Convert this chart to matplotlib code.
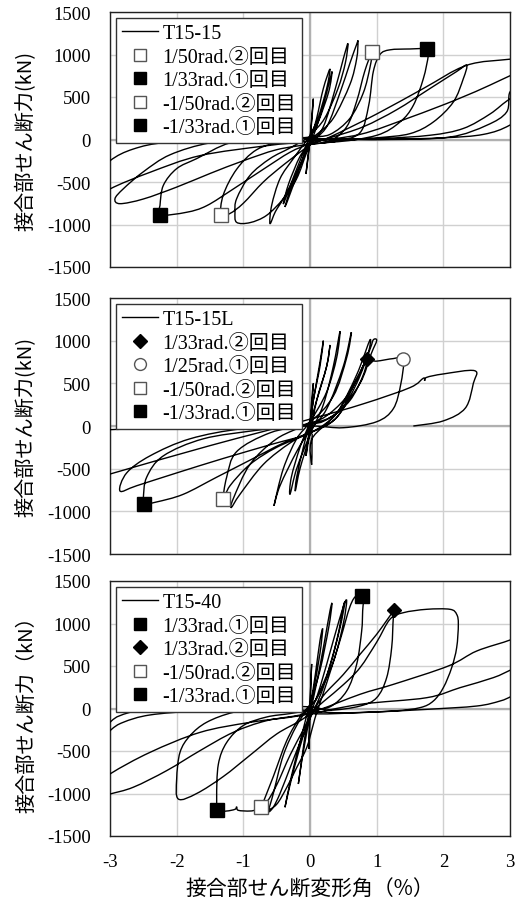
import numpy as np
import matplotlib
matplotlib.use("Agg")
import matplotlib.pyplot as plt
from matplotlib.lines import Line2D
from matplotlib.path import Path
from matplotlib.patches import PathPatch

plt.rcParams['font.family'] = ['Liberation Serif', 'Noto Sans CJK JP']

# joint shear deformation angle (%) / joint shear force (kN)
t15_15_curve = [
    (0, 0), (0.02, 200), (0.05, 480), (0.03, 250), (0, 0), (-0.02, -150), (-0.06, -406), (-0.03, -200), (0, -30),
    (0.1, 250), (0.2, 600), (0.3, 830), (0.25, 600), (0.12, 250), (0, 40), (-0.12, -250), (-0.28, -600),
    (-0.375, -794), (-0.3, -600), (-0.15, -300), (0, -60),
    (0.12, 200), (0.25, 550), (0.33, 800), (0.28, 560), (0.12, 200), (0, 30), (-0.15, -250), (-0.3, -550),
    (-0.4, -760), (-0.32, -520), (-0.15, -200), (0, -50),
    (0.2, 150), (0.38, 600), (0.5, 950), (0.57, 1130), (0.53, 900), (0.42, 600), (0.22, 250), (0, 40),
    (-0.25, -225), (-0.45, -461), (-0.575, -775), (-0.6, -990), (-0.52, -850), (-0.4, -696), (-0.2, -400), (0, -60),
    (0.25, 150), (0.45, 550), (0.6, 900), (0.7, 1120), (0.72, 1150), (0.7, 950), (0.6, 650), (0.35, 250),
    (0.1, 60), (0, 30), (-0.3, -100), (-0.6, -225), (-0.9, -422), (-1.1, -696), (-1.125, -853), (-1.1, -975),
    (-0.9, -978), (-0.65, -892), (-0.4, -696), (-0.2, -461), (-0.05, -150), (0, -60),
    (0.3, -20), (0.55, 150), (0.7, 450), (0.82, 800), (0.93, 1030), (0.9, 850), (0.8, 550), (0.6, 250),
    (0.3, 60), (0, 30), (-0.4, -20), (-0.8, -120), (-1.1, -350), (-1.3, -650), (-1.335, -888), (-1.2, -870),
    (-1.0, -750), (-0.7, -500), (-0.4, -300), (-0.1, -120), (0, -60),
    (0.4, -20), (0.75, 80), (0.88, 400), (0.95, 800), (1.05, 1000), (1.2, 1055), (1.5, 1065), (1.76, 1065),
    (1.775, 990), (1.7, 716), (1.55, 402), (1.35, 206), (1.0, 49), (0.35, -29), (0, 20), (-0.6, 10),
    (-1.2, -40), (-1.7, -225), (-2.0, -343), (-2.2, -540), (-2.25, -775), (-2.25, -888), (-1.85, -856),
    (-1.55, -779), (-1.15, -582), (-0.7, -350), (-0.3, -150), (0, -50),
    (0.3, 20), (0.8, 150), (1.3, 350), (1.8, 600), (2.2, 800), (2.35, 873), (2.3, 716), (2.15, 441),
    (1.85, 206), (1.5, 69), (1.0, 20), (0.4, -10), (0, 20), (-0.8, 0), (-1.5, -40), (-2.1, -180),
    (-2.5, -380), (-2.8, -580), (-2.925, -696), (-2.85, -755), (-2.5, -700), (-2.0, -560), (-1.5, -400),
    (-1.0, -250), (-0.5, -120), (0, -50),
    (0.3, 30), (1.0, 300), (1.7, 600), (2.35, 873), (3.0, 945), (3.4, 980), (3.5, 800), (3.2, 650),
    (3.0, 560), (2.95, 324), (2.65, 167), (2.1, 29), (1.2, 0), (0, 10),
    (-1.15, 6), (-2.15, -33), (-2.65, -112), (-3.0, -250), (-3.3, -500), (-3.5, -800), (-3.3, -750),
    (-3.0, -582), (-2.4, -386), (-1.65, -190), (-0.65, -73), (0, -20),
    (0.75, 60), (1.5, 260), (2.2, 470), (2.7, 640), (3.0, 750), (3.4, 880), (3.6, 700), (3.3, 550),
    (3.0, 476), (2.7, 300), (2.3, 130), (1.8, 50), (1.0, 10), (0, 0),
    (1.0, 0), (2.0, 20), (2.6, 60), (3.0, 170), (3.4, 400),
]

t15_15l_curve = [
    (0, 0), (0.02, 250), (0.05, 500), (0.03, 250), (0, 0), (-0.03, -200), (-0.06, -350), (-0.03, -150), (0, 0),
    (0.05, 300), (0.15, 700), (0.2, 1000), (0.15, 750), (0.05, 300), (0, 50), (-0.1, -250), (-0.2, -600),
    (-0.22, -760), (-0.15, -500), (0, -100),
    (0.1, 300), (0.25, 700), (0.3, 950), (0.25, 700), (0.1, 300), (0, 50), (-0.15, -250), (-0.28, -600),
    (-0.3, -800), (-0.2, -500), (0, -100),
    (0.2, 250), (0.35, 700), (0.45, 1110), (0.4, 800), (0.25, 400), (0, 50), (-0.2, -150), (-0.4, -500),
    (-0.54, -935), (-0.45, -700), (-0.2, -300), (0, -50),
    (0.25, 200), (0.5, 700), (0.62, 1100), (0.55, 800), (0.35, 350), (0, 50), (-0.5, -150), (-0.9, -450),
    (-1.15, -850), (-1.18, -955), (-1.05, -800), (-0.7, -450), (-0.3, -200), (0, -80),
    (0.03, -200), (0.025, -454), (0.03, -150),
    (0.4, 150), (0.7, 600), (0.9, 1010), (0.85, 800), (0.6, 400), (0.3, 150), (0, 30), (-0.6, -80),
    (-1.1, -300), (-1.25, -600), (-1.30, -856), (-1.2, -700), (-0.9, -450), (-0.5, -250), (0, -80),
    (0.4, 100), (0.7, 500), (0.9, 900), (0.95, 1010), (1.0, 1000), (0.92, 850), (0.75, 500), (0.4, 150),
    (0, 30), (-0.8, -50), (-1.6, -150), (-2.2, -350), (-2.45, -600), (-2.5, -850), (-2.49, -911),
    (-2.3, -890), (-1.9, -800), (-1.4, -600), (-0.9, -400), (-0.4, -200), (0, -80),
    (0.4, 100), (0.7, 550), (0.85, 785), (0.8, 600), (0.6, 300), (0.3, 100), (0, 20), (-1.0, -30),
    (-1.8, -150), (-2.4, -350), (-2.75, -550), (-2.85, -762), (-2.6, -700), (-2.0, -550), (-1.3, -380),
    (-0.6, -220), (0, -80),
    (0.4, 150), (0.7, 550), (0.85, 760), (1.0, 760), (1.25, 790), (1.40, 785), (1.36, 484), (1.25, 203),
    (1.0, 50), (0.5, -20), (0, 0), (-1.0, -20), (-2.0, -35), (-3.0, -43), (-3.6, -100), (-3.8, -400),
    (-3.6, -700), (-3.0, -563), (-1.5, -230), (0, 80), (0.8, 260), (1.5, 450), (1.7, 560), (1.72, 530),
    (1.75, 570), (2.0, 610), (2.47, 648), (2.45, 500), (2.33, 210), (2.0, 60), (1.55, 0),
]

t15_40_curve = [
    (0, 0), (0.01, 250), (0.025, 524), (0.01, 250), (0, 0), (-0.01, -250), (-0.017, -476), (-0.005, -200), (0, -30),
    (0.08, 400), (0.15, 800), (0.19, 935), (0.15, 650), (0.05, 200), (0, 30), (-0.08, -350), (-0.15, -750),
    (-0.175, -888), (-0.12, -600), (-0.03, -200), (0, -60),
    (0.1, 300), (0.22, 800), (0.3, 1150), (0.33, 1229), (0.28, 950), (0.15, 450), (0, 60), (-0.12, -300),
    (-0.28, -800), (-0.375, -1162), (-0.3, -900), (-0.15, -450), (0, -80),
    (0.15, 250), (0.35, 800), (0.5, 1200), (0.55, 1265), (0.5, 1000), (0.35, 550), (0.1, 120), (0, 30),
    (-0.2, -200), (-0.4, -550), (-0.55, -1000), (-0.62, -1206), (-0.55, -1160), (-0.45, -1000), (-0.3, -700),
    (-0.15, -400), (0, -120),
    (0.2, 250), (0.4, 800), (0.5, 1200), (0.52, 1229), (0.45, 950), (0.3, 500), (0.1, 120), (0, 40),
    (-0.15, -100), (-0.35, -380), (-0.55, -800), (-0.7, -1100), (-0.725, -1167), (-0.65, -1200),
    (-0.5, -1127), (-0.35, -931), (-0.2, -696), (-0.05, -461), (0.05, -186), (0.1, -50),
    (0.25, 300), (0.45, 800), (0.6, 1200), (0.70, 1330), (0.80, 1324), (0.79, 1150), (0.775, 912),
    (0.70, 520), (0.55, 206), (0.3, 20), (0, -20), (-0.3, -60), (-0.65, -100), (-1.0, -200), (-1.25, -400),
    (-1.375, -657), (-1.40, -1049), (-1.375, -1198), (-1.25, -1206), (-1.125, -1186), (-1.1, -1159),
    (-1.075, -1198), (-0.9, -1206), (-0.8, -1186), (-0.65, -1100), (-0.5, -900), (-0.3, -550), (-0.1, -250),
    (0, -100),
    (0.2, 150), (0.5, 400), (0.75, 637), (1.0, 873), (1.275, 1167), (1.25, 1069), (1.225, 716), (1.15, 363),
    (1.0, 127), (0.75, 29), (0.3, -20), (0, 20), (-0.65, 14), (-1.15, -45), (-1.55, -162), (-1.8, -320),
    (-1.95, -516), (-2.0, -829), (-1.975, -1065), (-1.7, -1000), (-1.3, -800), (-0.9, -550), (-0.5, -300),
    (-0.1, -120),
    (0.2, 80), (0.5, 280), (0.75, 480), (1.0, 780), (1.2, 1050), (1.4, 1127), (1.75, 1167), (2.1, 1167),
    (2.2, 1108), (2.225, 990), (2.2, 716), (2.125, 480), (2.0, 245), (1.85, 88), (1.65, 10), (1.25, -29),
    (0.5, -50), (0, -30), (-0.65, 33), (-1.9, 2), (-2.55, -25), (-2.85, -84), (-3.0, -162), (-3.3, -400),
    (-3.4, -900), (-3.2, -1050), (-3.0, -1006), (-2.65, -926), (-2.15, -731), (-1.65, -496), (-1.15, -280),
    (-0.65, -143), (0, -50), (0.75, 167), (1.25, 284), (2.075, 500), (2.5, 676), (3.03, 814), (3.4, 950),
    (3.6, 700), (3.4, 300), (3.03, 147), (2.85, 88), (2.5, 29), (1.75, -10), (0.75, -49), (0, -60),
    (-0.65, 14), (-1.65, -25), (-2.4, -76), (-2.8, -162), (-3.0, -261), (-3.3, -500), (-3.6, -900),
    (-3.4, -1000), (-3.0, -770), (-2.4, -516), (-1.65, -281), (-0.9, -163), (-0.15, -85), (0.75, 49),
    (1.75, 127), (2.25, 245), (2.75, 363), (3.03, 461), (3.4, 600),
]

specimens = ['T15-15', 'T15-15L', 'T15-40']
curves = [t15_15_curve, t15_15l_curve, t15_40_curve]

mark_labels = [
    ['1/50rad.②回目', '1/33rad.①回目', '-1/50rad.②回目', '-1/33rad.①回目'],
    ['1/33rad.②回目', '1/25rad.①回目', '-1/50rad.②回目', '-1/33rad.①回目'],
    ['1/33rad.①回目', '1/33rad.②回目', '-1/50rad.②回目', '-1/33rad.①回目'],
]
mark_x = [
    [0.93, 1.76, -1.335, -2.25],
    [0.85, 1.40, -1.30, -2.49],
    [0.775, 1.265, -0.74, -1.40],
]
mark_y = [
    [1026, 1065, -888, -888],
    [785, 785, -856, -911],
    [1320, 1159, -1162, -1194],
]
mark_shapes = [
    [('s', 'white'), ('s', 'black'), ('s', 'white'), ('s', 'black')],
    [('D', 'black'), ('o', 'white'), ('s', 'white'), ('s', 'black')],
    [('s', 'black'), ('D', 'black'), ('s', 'white'), ('s', 'black')],
]

ylabels = ['接合部せん断力(kN)', '接合部せん断力(kN)', '接合部せん断力（kN）']
xlabel = '接合部せん断変形角（%）'
x_ticks = [-3, -2, -1, 0, 1, 2, 3]
y_ticks = [-1500, -1000, -500, 0, 500, 1000, 1500]


def smooth_path(points):
    # draw the read points as a smooth curve (Catmull-Rom segments as cubic Bezier)
    p = np.array(points, dtype=float)
    verts = [p[0]]
    codes = [Path.MOVETO]
    n = len(p)
    for k in range(n - 1):
        p0 = p[k - 1] if k > 0 else p[k]
        p1 = p[k]
        p2 = p[k + 1]
        p3 = p[k + 2] if k + 2 < n else p[k + 1]
        verts += [p1 + (p2 - p0) / 6.0, p2 - (p3 - p1) / 6.0, p2]
        codes += [Path.CURVE4] * 3
    return Path(verts, codes)


fig = plt.figure(figsize=(5.25, 9.03), dpi=100)
left = 110 / 525
width = 400 / 525
tops = [13, 299, 582]
bottoms = [268, 555, 837]

for i in range(3):
    ax = fig.add_axes([left, 1 - bottoms[i] / 903, width, (bottoms[i] - tops[i]) / 903])
    ax.set_xlim(-3, 3)
    ax.set_ylim(-1500, 1500)
    ax.set_xticks(x_ticks)
    ax.set_yticks(y_ticks)
    ax.grid(True, color='#d0d0d0', linewidth=1.0)
    ax.axhline(0, color='#b0b0b0', linewidth=1.6, zorder=1)
    ax.axvline(0, color='#b0b0b0', linewidth=1.6, zorder=1)
    ax.set_axisbelow(True)
    for s in ax.spines.values():
        s.set_color('#222222')
        s.set_linewidth(1.0)
    ax.tick_params(length=0, labelsize=13.5)
    ax.tick_params(axis='y', pad=14)
    ax.set_yticklabels([str(v) for v in y_ticks])
    if i < 2:
        ax.set_xticklabels([])
    else:
        ax.set_xticklabels([str(v) for v in x_ticks])
        ax.tick_params(axis='x', pad=12)
        ax.set_xlabel(xlabel, fontsize=15, family=['Noto Sans CJK JP'], labelpad=6)

    patch = PathPatch(smooth_path(curves[i]), facecolor='none', edgecolor='black',
                      linewidth=1.0, zorder=3)
    ax.add_patch(patch)

    handles = [Line2D([0], [0], color='black', linewidth=1.0)]
    labels = [specimens[i]]
    for j in range(4):
        m, fc = mark_shapes[i][j]
        ms = {'s': 9.5, 'D': 7.5, 'o': 9.5}[m]
        ec = 'black' if fc == 'black' else '#555555'
        ax.plot(mark_x[i][j], mark_y[i][j], marker=m, markersize=ms, markerfacecolor=fc,
                markeredgecolor=ec, markeredgewidth=1.0, linestyle='none', zorder=5)
        handles.append(Line2D([0], [0], marker=m, markersize=ms * 0.9, markerfacecolor=fc,
                              markeredgecolor=ec, markeredgewidth=1.0, linestyle='none'))
        labels.append(mark_labels[i][j])
    leg = ax.legend(handles, labels, loc='upper left', fontsize=14.5, frameon=True, fancybox=False,
                    framealpha=1, edgecolor='#333333', handlelength=1.8, handletextpad=0.2,
                    labelspacing=0.22, borderpad=0.3, borderaxespad=0.3)
    leg.get_frame().set_linewidth(1.0)
    leg.set_zorder(10)

    ax.set_ylabel(ylabels[i], fontsize=14.5, family=['Noto Sans CJK JP'], labelpad=7)

fig.savefig('out.png', dpi=100)
